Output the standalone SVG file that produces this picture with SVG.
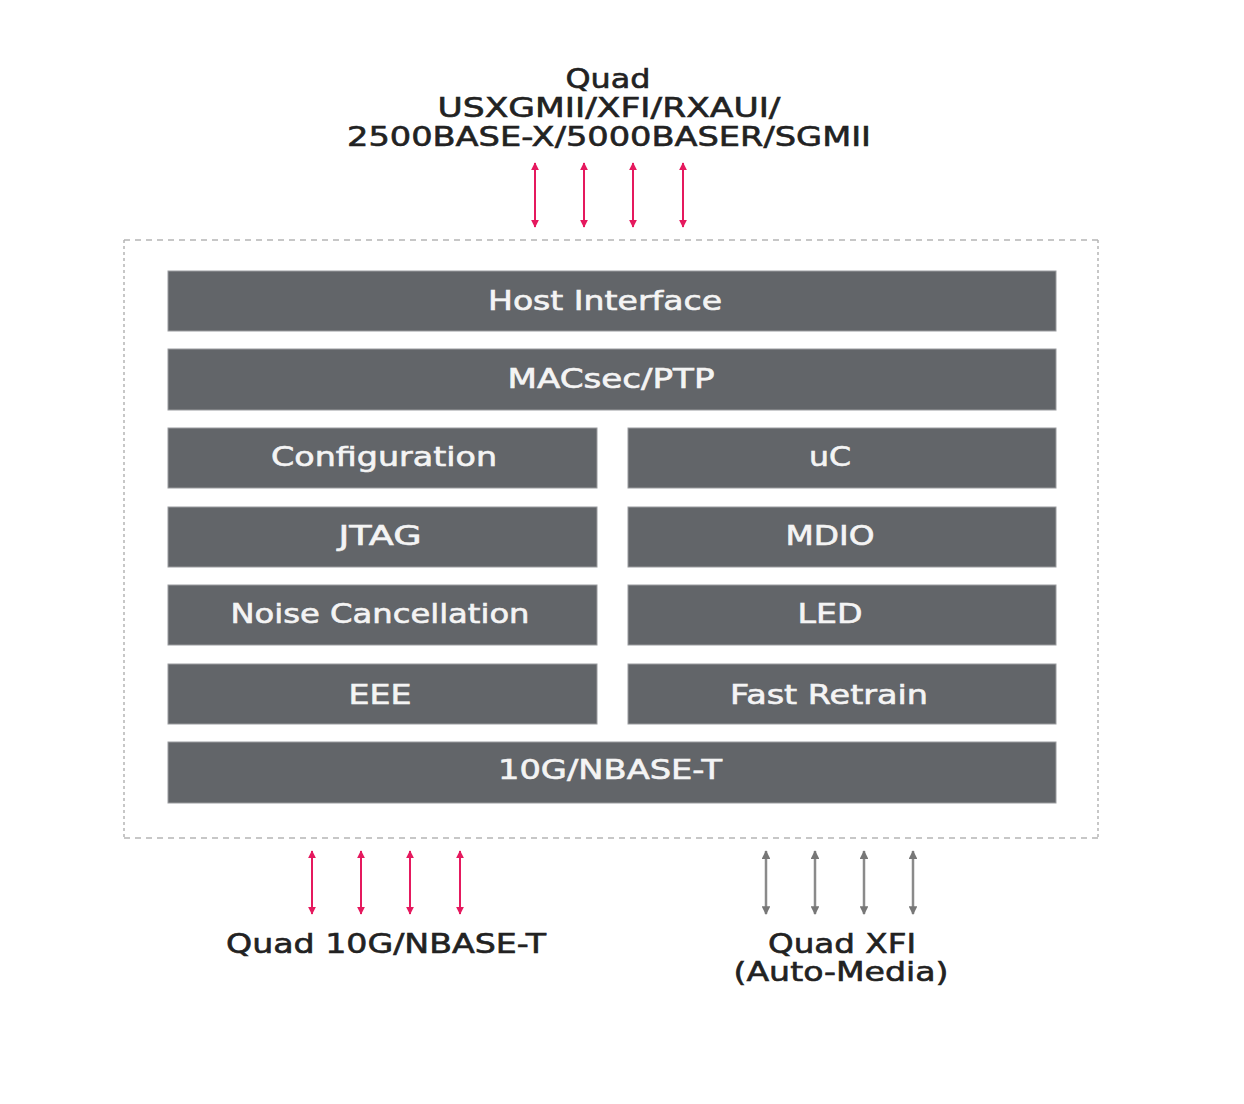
<svg xmlns="http://www.w3.org/2000/svg" width="1244" height="1104" viewBox="0 0 1244 1104">
<style>
.bar{fill:#626569;stroke:#9a9c9f;stroke-width:1}
.bt{fill:#f4f4f4;stroke:#f4f4f4;stroke-width:0.6;font-family:"DejaVu Sans",sans-serif;font-size:26px;text-anchor:middle}
.lt{fill:#222;stroke:#222;stroke-width:0.6;font-family:"DejaVu Sans",sans-serif;font-size:27px;text-anchor:middle}
.red{stroke:#e5195e;stroke-width:2;fill:none;marker-start:url(#ar);marker-end:url(#ar)}
.gry{stroke:#8a8a8a;stroke-width:2.5;fill:none;marker-start:url(#ag);marker-end:url(#ag)}
.hd{stroke:#b5b5b5;stroke-width:1.5;stroke-dasharray:6,5;fill:none}
.vd{stroke:#b5b5b5;stroke-width:1.5;stroke-dasharray:3,3;fill:none}
</style>
<defs>
<marker id="ar" viewBox="0 0 10 10" refX="9" refY="5" markerWidth="4" markerHeight="4" orient="auto-start-reverse"><path d="M0,0L10,5L0,10z" fill="#e5195e"/></marker>
<marker id="ag" viewBox="0 0 10 10" refX="9" refY="5" markerWidth="3.5" markerHeight="3.5" orient="auto-start-reverse"><path d="M0,0L10,5L0,10z" fill="#777"/></marker>
</defs>
<rect width="1244" height="1104" fill="#fff"/>
<g id="container">
<line class="hd" x1="124" y1="240" x2="1098" y2="240"/>
<line class="hd" x1="124" y1="838" x2="1098" y2="838"/>
<line class="vd" x1="124" y1="240" x2="124" y2="838"/>
<line class="vd" x1="1098" y1="240" x2="1098" y2="838"/>
</g>
<g id="top-label">
<text class="lt" x="608" y="88" textLength="85" lengthAdjust="spacingAndGlyphs">Quad</text>
<text class="lt" x="609" y="117" textLength="343" lengthAdjust="spacingAndGlyphs">USXGMII/XFI/RXAUI/</text>
<text class="lt" x="609" y="146" textLength="524" lengthAdjust="spacingAndGlyphs">2500BASE-X/5000BASER/SGMII</text>
</g>
<g id="n-host"><rect class="bar" x="168" y="271" width="888" height="60"/><text class="bt" x="605" y="310" textLength="234" lengthAdjust="spacingAndGlyphs">Host Interface</text></g>
<g id="n-macsec"><rect class="bar" x="168" y="349" width="888" height="61"/><text class="bt" x="611" y="388" textLength="207" lengthAdjust="spacingAndGlyphs">MACsec/PTP</text></g>
<g id="n-config"><rect class="bar" x="168" y="428" width="429" height="60"/><text class="bt" x="384" y="466" textLength="226" lengthAdjust="spacingAndGlyphs">Configuration</text></g>
<g id="n-uc"><rect class="bar" x="628" y="428" width="428" height="60"/><text class="bt" x="830" y="466" textLength="42" lengthAdjust="spacingAndGlyphs">uC</text></g>
<g id="n-jtag"><rect class="bar" x="168" y="507" width="429" height="60"/><text class="bt" x="380" y="545" textLength="83" lengthAdjust="spacingAndGlyphs">JTAG</text></g>
<g id="n-mdio"><rect class="bar" x="628" y="507" width="428" height="60"/><text class="bt" x="830" y="545" textLength="89" lengthAdjust="spacingAndGlyphs">MDIO</text></g>
<g id="n-noise"><rect class="bar" x="168" y="585" width="429" height="60"/><text class="bt" x="380" y="623" textLength="299" lengthAdjust="spacingAndGlyphs">Noise Cancellation</text></g>
<g id="n-led"><rect class="bar" x="628" y="585" width="428" height="60"/><text class="bt" x="830" y="623" textLength="65" lengthAdjust="spacingAndGlyphs">LED</text></g>
<g id="n-eee"><rect class="bar" x="168" y="664" width="429" height="60"/><text class="bt" x="380" y="704" textLength="63" lengthAdjust="spacingAndGlyphs">EEE</text></g>
<g id="n-fast"><rect class="bar" x="628" y="664" width="428" height="60"/><text class="bt" x="829" y="704" textLength="198" lengthAdjust="spacingAndGlyphs">Fast Retrain</text></g>
<g id="n-10g"><rect class="bar" x="168" y="742" width="888" height="61"/><text class="bt" x="610" y="779" textLength="224" lengthAdjust="spacingAndGlyphs">10G/NBASE-T</text></g>
<g id="connectors">
<line class="red" x1="535" y1="163" x2="535" y2="227"/>
<line class="red" x1="584" y1="163" x2="584" y2="227"/>
<line class="red" x1="633" y1="163" x2="633" y2="227"/>
<line class="red" x1="683" y1="163" x2="683" y2="227"/>
<line class="red" x1="312" y1="851" x2="312" y2="914"/>
<line class="red" x1="361" y1="851" x2="361" y2="914"/>
<line class="red" x1="410" y1="851" x2="410" y2="914"/>
<line class="red" x1="460" y1="851" x2="460" y2="914"/>
<line class="gry" x1="766" y1="851" x2="766" y2="914"/>
<line class="gry" x1="815" y1="851" x2="815" y2="914"/>
<line class="gry" x1="864" y1="851" x2="864" y2="914"/>
<line class="gry" x1="913" y1="851" x2="913" y2="914"/>
</g>
<g id="bottom-labels">
<text class="lt" x="386" y="953" textLength="320" lengthAdjust="spacingAndGlyphs">Quad 10G/NBASE-T</text>
<text class="lt" x="842" y="953" textLength="148" lengthAdjust="spacingAndGlyphs">Quad XFI</text>
<text class="lt" x="841" y="981" textLength="215" lengthAdjust="spacingAndGlyphs">(Auto-Media)</text>
</g>
</svg>
